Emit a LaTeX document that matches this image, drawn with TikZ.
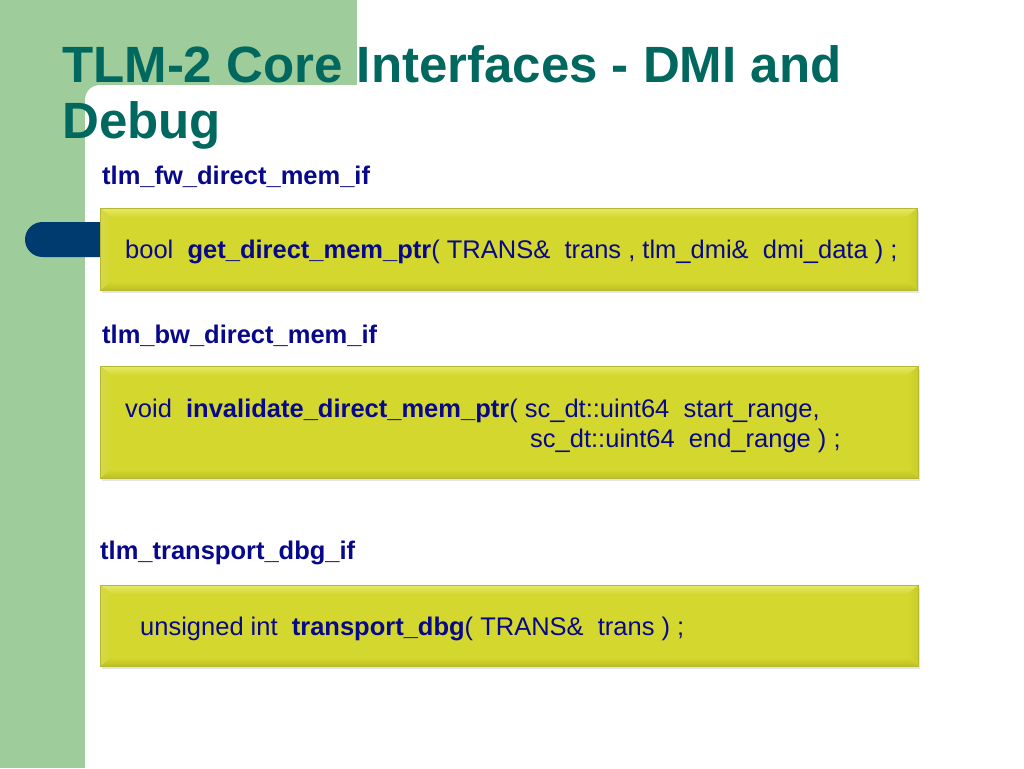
\documentclass[tikz,border=0pt]{standalone}
\usepackage{fontspec}
\setmainfont{Liberation Sans}
\usetikzlibrary{calc}
\definecolor{sidegreen}{RGB}{158,204,154}
\definecolor{pillblue}{RGB}{0,59,112}
\definecolor{titleteal}{RGB}{0,104,94}
\definecolor{navy}{RGB}{8,8,138}
\definecolor{boxfill}{RGB}{212,216,46}
\definecolor{boxline}{RGB}{180,184,50}
\definecolor{bevtop}{RGB}{230,232,104}
\definecolor{bevleft}{RGB}{222,224,78}
\definecolor{bevright}{RGB}{200,205,40}
\definecolor{bevbottom}{RGB}{188,192,34}
\tikzset{
  bevelbox/.style={draw=boxline, line width=0.6pt, fill=boxfill, anchor=north west, inner sep=0pt,
    path picture={
      \coordinate (nw) at (path picture bounding box.north west);
      \coordinate (ne) at (path picture bounding box.north east);
      \coordinate (sw) at (path picture bounding box.south west);
      \coordinate (se) at (path picture bounding box.south east);
      \fill[top color=bevtop, bottom color=boxfill] (nw) -- (ne) -- ([xshift=-11pt,yshift=-9pt]ne) -- ([xshift=11pt,yshift=-9pt]nw) -- cycle;
      \fill[left color=bevleft!80!boxline, right color=boxfill] (nw) -- ([xshift=11pt,yshift=-9pt]nw) -- ([xshift=11pt,yshift=9pt]sw) -- (sw) -- cycle;
      \fill[left color=boxfill, right color=bevright] (ne) -- ([xshift=-11pt,yshift=-9pt]ne) -- ([xshift=-11pt,yshift=9pt]se) -- (se) -- cycle;
      \fill[top color=boxfill, bottom color=bevbottom] (sw) -- ([xshift=11pt,yshift=9pt]sw) -- ([xshift=-11pt,yshift=9pt]se) -- (se) -- cycle;
    }},
  boxshadow/.style={fill=black, opacity=0.10, anchor=north west, inner sep=0pt},
  titletext/.style={anchor=base west, inner sep=0pt, text=titleteal, font=\fontsize{51}{56}\selectfont\bfseries},
  labeltext/.style={anchor=base west, inner sep=0pt, text=navy, font=\fontsize{25.5}{30}\selectfont\bfseries},
  codetext/.style={anchor=base west, inner sep=0pt, text=navy, font=\fontsize{25.5}{30}\selectfont},
}
\begin{document}
\begin{tikzpicture}[x=1pt,y=-1pt]
\useasboundingbox (0,0) rectangle (1024,768);
\fill[white] (0,0) rectangle (1024,768);
% green background band
\fill[sidegreen] (0,0) rectangle (357,100);
\fill[sidegreen] (0,0) rectangle (100,768);
\fill[white, rounded corners=15pt] (85,85) rectangle (1100,900);
% blue pill
\fill[pillblue, rounded corners=17.5pt] (25,222) rectangle (130,257);
% title
\node[titletext] (t1) at (62,82) {TLM-2 Core Interfaces - DMI and};
\node[titletext] (t2) at (62,138) {Debug};
% box 1
\node[labeltext] (l1) at (102,184) {tlm\_fw\_direct\_mem\_if};
\node[boxshadow, minimum width=817pt, minimum height=82pt] (s1) at (102,211) {};
\node[bevelbox, minimum width=817pt, minimum height=82pt] (b1) at (100,208) {};
\node[codetext] (c1) at (125,258) {bool\ \ \textbf{get\_direct\_mem\_ptr}( TRANS\&\ \ trans , tlm\_dmi\&\ \ dmi\_data ) ;};
% box 2
\node[labeltext] (l2) at (102,343) {tlm\_bw\_direct\_mem\_if};
\node[boxshadow, minimum width=818pt, minimum height=112pt] (s2) at (102,369) {};
\node[bevelbox, minimum width=818pt, minimum height=112pt] (b2) at (100,366) {};
\node[codetext] (c2a) at (125,417) {void\ \ \textbf{invalidate\_direct\_mem\_ptr}( sc\_dt::uint64\ \ start\_range,};
\node[codetext] (c2b) at (530,447) {sc\_dt::uint64\ \ end\_range ) ;};
% box 3
\node[labeltext] (l3) at (100,559) {tlm\_transport\_dbg\_if};
\node[boxshadow, minimum width=818pt, minimum height=81pt] (s3) at (102,588) {};
\node[bevelbox, minimum width=818pt, minimum height=81pt] (b3) at (100,585) {};
\node[codetext] (c3) at (140,635) {unsigned int\ \ \textbf{transport\_dbg}( TRANS\&\ \ trans ) ;};
\end{tikzpicture}
\end{document}
